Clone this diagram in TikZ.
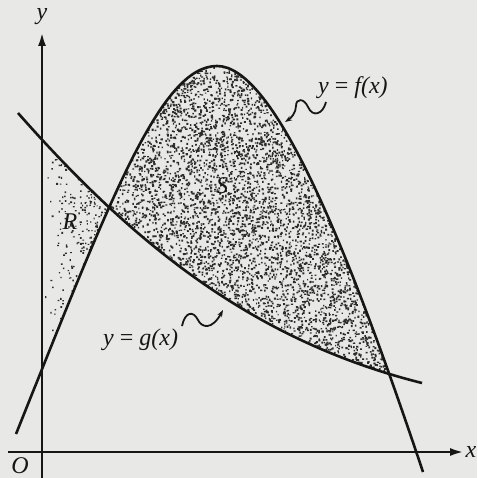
\documentclass[tikz,border=0pt]{standalone}
\usepackage{fontspec}
\setmainfont{Liberation Serif}
\usetikzlibrary{arrows.meta}
\definecolor{bg}{RGB}{232,232,230}
\definecolor{ink}{RGB}{22,22,22}
\begin{document}
\begin{tikzpicture}[x=1pt,y=-1pt,
  curve/.style={line width=2.6pt, draw=ink},
  axis/.style={line width=2.6pt, draw=ink, -{Latex[length=14pt,width=8pt]}},
  lbl/.style={font=\fontsize{24}{28}\selectfont\itshape, text=ink, inner sep=0pt},
  squig/.style={line width=1.8pt, draw=ink, -{Stealth[length=7pt,width=5pt]}},
  dot/.style={fill=ink!90}]
\fill[bg] (0,0) rectangle (477,478);
\useasboundingbox (0,0) rectangle (477,478);
\def\fpath{(16,434) .. controls (110,200) and (160,66) .. (217,66) .. controls (272,66) and (342,230) .. (423,472)}
\def\gpath{(18,113) .. controls (130,240) and (250,340) .. (422,383)}
\pgfmathsetseed{11}
% region S
\begin{scope}
  \clip \fpath -- (423,478) -- (16,478) -- cycle;
  \clip \gpath -- (422,0) -- (18,0) -- cycle;
  \foreach \k in {1,...,5} {
    \fill[dot] \foreach \i in {1,...,1900} {({100+rnd*300},{60+rnd*320}) rectangle ++({1.1+1.1*rnd},{1.1+1.1*rnd})};
  }
\end{scope}
% region R
\begin{scope}
  \clip (43,100) rectangle (115,400);
  \clip \fpath -- (423,0) -- (16,0) -- cycle;
  \clip \gpath -- (422,478) -- (18,478) -- cycle;
  \fill[dot] \foreach \i in {1,...,800} {({42+72*sqrt(rnd)},{130+rnd*270}) rectangle ++({1.0+1.0*rnd},{1.0+1.0*rnd})};
\end{scope}
% axes
\coordinate (xs) at (8,452);
\coordinate (xe) at (464,452);
\coordinate (ys) at (42,478);
\coordinate (ye) at (42,32);
\draw[axis] (xs) -- (xe);
\draw[axis] (ys) -- (ye);
% curves
\draw[curve] \fpath;
\draw[curve] \gpath;
% labels
\node[lbl] (ylab) at (42,17) {y};
\node[lbl] (xlab) at (471,452) {x};
\node[lbl] (olab) at (20,466) {O};
\node[lbl] (rlab) at (70,222) {R};
\node[lbl] (slab) at (222,186) {S};
\node[lbl, anchor=west] (flab) at (318,88) {y {\upshape=} f(x)};
\node[lbl, anchor=west] (glab) at (103,340) {y {\upshape=} g(x)};
% squiggle connectors
\coordinate (fs) at (326,102);
\coordinate (ft) at (285,122);
\coordinate (gs) at (182,326);
\coordinate (gt) at (223,310);
\draw[squig] (fs) .. controls (323,114) and (313,118) .. (308,107)
  .. controls (304,98) and (296,98) .. (296,106)
  .. controls (296,113) and (291,118) .. (ft);
\draw[squig] (gs) .. controls (185,312) and (193,310) .. (198,320)
  .. controls (202,328) and (212,330) .. (gt);
\end{tikzpicture}
\end{document}
